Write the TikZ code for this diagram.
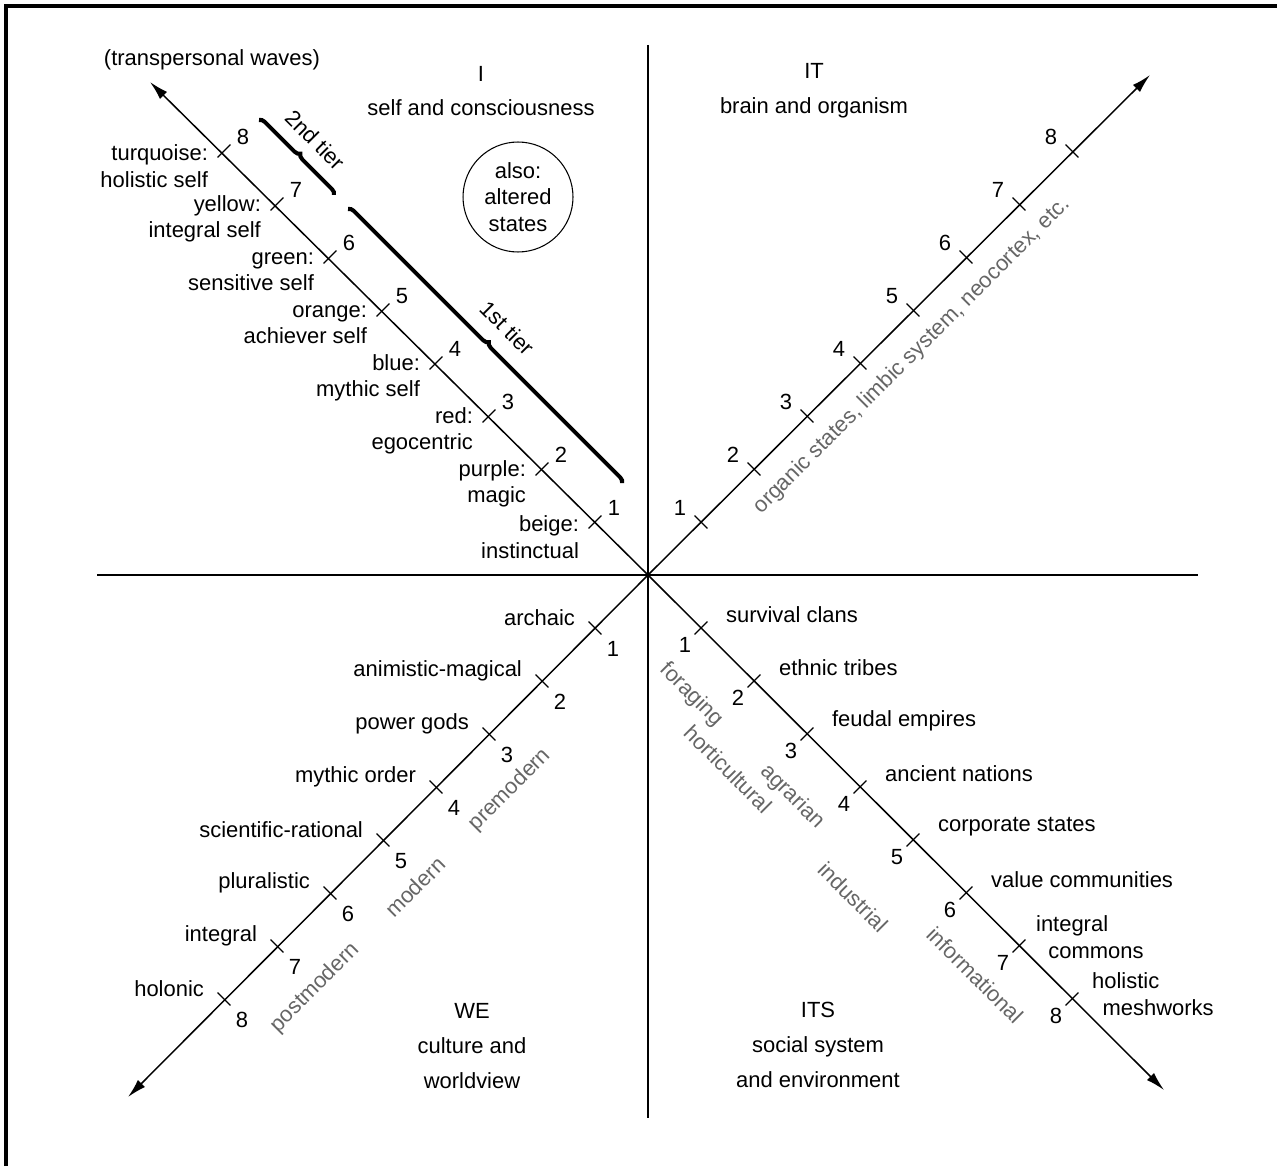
\documentclass[tikz,border=0pt]{standalone}
\usepackage{fontspec}
\setmainfont{Liberation Sans}
\usetikzlibrary{arrows.meta, decorations.pathreplacing}

\tikzset{
  axisline/.style={line width=0.85pt, -{Latex[length=0.38cm, width=0.2cm]}},
  tickmark/.style={line width=0.7pt},
  num/.style={inner sep=1pt},
  level/.style={align=right, inner sep=1pt},
  phase/.style={black!60, inner sep=1pt},
  quadtitle/.style={align=center, font=\fontsize{12.5}{19.8}\selectfont},
  tierbrace/.style={decorate, decoration={brace, amplitude=0.11cm}, line width=2.3pt},
}

\begin{document}
\begin{tikzpicture}[x=0.02cm, y=-0.02cm, font=\fontsize{12.5}{15}\selectfont]
    \useasboundingbox (0,0) rectangle (1277,1166);
    % Frame, top and left only
    \draw[line width=2.2pt] (6,1166) -- (6,6) -- (1277,6);
    % Quadrant cross
    \coordinate (O) at (648,575);
    \coordinate (W) at (97,575);
    \coordinate (E) at (1198,575);
    \coordinate (N) at (648,45);
    \coordinate (S) at (648,1118);
    \draw[line width=1pt] (W) -- (E);
    \draw[line width=1pt] (N) -- (S);
    % Diagonal axes
    \coordinate (ULtip) at (150,82);
    \coordinate (URtip) at (1150,75);
    \coordinate (LLtip) at (128,1097);
    \coordinate (LRtip) at (1164,1090);
    \draw[axisline] (O) -- (ULtip);
    \draw[axisline] (O) -- (URtip);
    \draw[axisline] (O) -- (LLtip);
    \draw[axisline] (O) -- (LRtip);
    % Ticks and numbers
    \foreach \k in {1,...,8} {
        \draw[tickmark] (648-53*\k-6.4, 575-53*\k+6.4) -- ++(12.8,-12.8);
        \draw[tickmark] (648+53*\k-6.4, 575-53*\k-6.4) -- ++(12.8,12.8);
        \draw[tickmark] (648-53*\k-6.4, 575+53*\k-6.4) -- ++(12.8,12.8);
        \draw[tickmark] (648+53*\k-6.4, 575+53*\k+6.4) -- ++(12.8,-12.8);
        \node[num] (ulN\k) at (648-53*\k+19, 575-53*\k-14) {\k};
        \node[num] (urN\k) at (648+53*\k-21, 575-53*\k-14) {\k};
        \node[num] (llN\k) at (648-53*\k+18, 575+53*\k+21) {\k};
        \node[num] (lrN\k) at (648+53*\k-16, 575+53*\k+17) {\k};
    }
    % I: waves of self
    \foreach \k/\hue/\self in {1/beige:/instinctual, 2/purple:/magic, 3/red:/egocentric,
        4/blue:/mythic self, 5/orange:/achiever self, 6/green:/sensitive self,
        7/yellow:/integral self, 8/turquoise:/holistic self}
        \node[level, anchor=east] (ulL\k) at (648-53*\k-14, 575-53*\k+15) {\hue\\\self};
    \node (waves) at (212,60) {(transpersonal waves)};
    % Tiers
    \draw[tierbrace] (259,120) -- (334,195) coordinate (tierTwoEnd);
    \draw[tierbrace] (348,209) -- (622,483) coordinate (tierOneEnd);
    \node[rotate=-45, inner sep=1pt] (tierTwo) at (315,140) {2nd tier};
    \node[rotate=-45, inner sep=1pt] (tierOne) at (507,328) {1st tier};
    \node[draw, circle, line width=0.6pt, minimum size=2.2cm, inner sep=0pt, align=center] (alt) at (518,197) {also:\\altered\\states};
    % WE: worldviews
    \foreach \k/\view in {1/archaic, 2/animistic-magical, 3/power gods, 4/mythic order,
        5/scientific-rational, 6/pluralistic, 7/integral, 8/holonic}
        \node[anchor=east, inner sep=1pt] (llL\k) at (648-53*\k-18, 575+53*\k-10) {\view};
    % ITS: social forms
    \foreach \k/\org in {1/survival clans, 2/ethnic tribes, 3/feudal empires, 4/ancient nations,
        5/corporate states, 6/value communities}
        \node[anchor=west, inner sep=1pt] (lrL\k) at (648+53*\k+23, 575+53*\k-13) {\org};
    \node[anchor=west, align=left, inner sep=1pt] (lrL7) at (1034,937) {integral\\\hspace*{7pt}commons};
    \node[anchor=west, align=left, inner sep=1pt] (lrL8) at (1090,994) {holistic\\\hspace*{6pt}meshworks};
    % Phases along the axes
    \node[phase, rotate=45] (brain) at (912,356) {organic states, limbic system, neocortex, etc.};
    \node[phase, rotate=45] (premod) at (510,790) {premodern};
    \node[phase, rotate=45] (mod) at (415,887) {modern};
    \node[phase, rotate=45] (postmod) at (315,988) {postmodern};
    \node[phase, rotate=-45] (forag) at (691,695) {foraging};
    \node[phase, rotate=-45] (hort) at (728,769) {horticultural};
    \node[phase, rotate=-45] (agr) at (792,797) {agrarian};
    \node[phase, rotate=-45] (ind) at (853,897) {industrial};
    \node[phase, rotate=-45] (info) at (975,975) {informational};
    % Quadrant titles
    \node[quadtitle] (qI) at (481,91) {I\\self and consciousness};
    \node[quadtitle] (qIT) at (814,91) {IT\\brain and organism};
    \node[quadtitle] (qWE) at (472,1046) {WE\\culture and\\worldview};
    \node[quadtitle] (qITS) at (818,1045) {ITS\\social system\\and environment};
\end{tikzpicture}
\end{document}
